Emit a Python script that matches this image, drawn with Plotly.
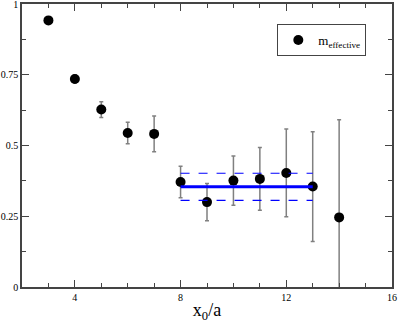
import plotly.graph_objects as go

# effective mass vs x0/a
x0 = [3, 4, 5, 6, 7, 8, 9, 10, 11, 12, 13, 14]
m_eff = [0.942, 0.735, 0.627, 0.544, 0.541, 0.371, 0.300, 0.376, 0.382, 0.403, 0.355, 0.246]
m_err = [0.004, 0.014, 0.028, 0.038, 0.063, 0.056, 0.066, 0.087, 0.111, 0.155, 0.194, 0.345]

# plateau fit
fit_x = [8, 13]
fit_val = 0.354
fit_err = 0.048

fig = go.Figure()

fig.add_trace(go.Scatter(
    x=x0, y=m_eff,
    mode='markers',
    marker=dict(size=10, color='black'),
    error_y=dict(type='data', array=m_err, color='#808080', thickness=1.5, width=2),
    name='m<sub>effective</sub>',
))

fig.add_trace(go.Scatter(
    x=fit_x, y=[fit_val] * 2, mode='lines',
    line=dict(color='#0000ff', width=3), showlegend=False))
for s in (1, -1):
    fig.add_trace(go.Scatter(
        x=fit_x, y=[fit_val + s * fit_err] * 2, mode='lines',
        line=dict(color='#0000ff', width=1.2, dash='dash'), showlegend=False))

ax_common = dict(showgrid=False, zeroline=False, showline=True, linecolor='#444',
                 linewidth=1.5, mirror='allticks', ticks='inside', tickcolor='#444',
                 automargin=False, ticklabeloverflow='allow',
                 tickfont=dict(family='Liberation Serif', size=10, color='black'))

fig.update_layout(
    width=398, height=327,
    margin=dict(l=22, r=6, t=4, b=40),
    plot_bgcolor='white', paper_bgcolor='white',
    xaxis=dict(range=[2, 16], tickvals=[4, 8, 12, 16], ticklen=7,
               minor=dict(dtick=1, ticklen=4, ticks='inside', tickcolor='#444'),
               title=dict(text='x<sub>0</sub>/a', standoff=2,
                          font=dict(family='Liberation Serif', size=18, color='black')),
               **ax_common),
    yaxis=dict(range=[0, 1], tickvals=[0, 0.25, 0.5, 0.75, 1],
               ticktext=['0', '0.25', '0.5', '0.75', '1'], ticklen=7,
               minor=dict(dtick=0.125, ticklen=4, ticks='inside', tickcolor='#444'),
               **ax_common),
    legend=dict(x=0.69, y=0.929, xanchor='left', yanchor='top',
                bordercolor='#444', borderwidth=1, bgcolor='white',
                font=dict(family='Liberation Serif', size=13, color='black'),
                itemwidth=30, tracegroupgap=0),
    showlegend=True,
)

# drop the default page margin so the figure sits at the window corner
fig.write_html("out.html", config={'displayModeBar': False},
               post_script="document.body.style.margin='0px';")
